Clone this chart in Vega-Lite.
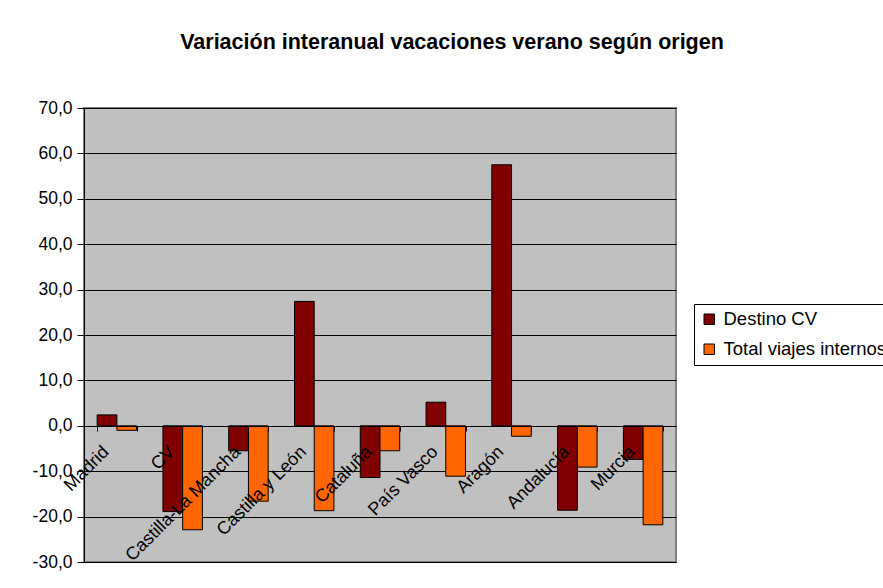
{
  "$schema": "https://vega.github.io/schema/vega-lite/v6.json",
  "width": 592,
  "height": 454,
  "autosize": {"type": "none"},
  "padding": {"left": 84, "top": 108, "right": 207, "bottom": 26},
  "background": "white",
  "title": {
    "text": "Variación interanual vacaciones verano según origen",
    "font": "Liberation Sans",
    "fontSize": 21.5,
    "fontWeight": "bold",
    "color": "black",
    "anchor": "middle",
    "dx": 72,
    "baseline": "alphabetic",
    "offset": 29
  },
  "config": {
    "locale": {
      "number": {"decimal": ",", "thousands": ".", "grouping": [3], "currency": ["", " €"], "minus": "-"}
    },
    "view": {"fill": "#C0C0C0", "stroke": "#808080", "strokeWidth": 2}
  },
  "data": {
    "values": [
      {"region": "Madrid", "serie": "Destino CV", "valor": 2.4},
      {"region": "Madrid", "serie": "Total viajes internos", "valor": -1.0},
      {"region": "CV", "serie": "Destino CV", "valor": -18.9},
      {"region": "CV", "serie": "Total viajes internos", "valor": -22.9},
      {"region": "Castilla-La Mancha", "serie": "Destino CV", "valor": -5.5},
      {"region": "Castilla-La Mancha", "serie": "Total viajes internos", "valor": -16.6},
      {"region": "Castilla y León", "serie": "Destino CV", "valor": 27.4},
      {"region": "Castilla y León", "serie": "Total viajes internos", "valor": -18.7},
      {"region": "Cataluña", "serie": "Destino CV", "valor": -11.4},
      {"region": "Cataluña", "serie": "Total viajes internos", "valor": -5.5},
      {"region": "País Vasco", "serie": "Destino CV", "valor": 5.2},
      {"region": "País Vasco", "serie": "Total viajes internos", "valor": -11.1},
      {"region": "Aragón", "serie": "Destino CV", "valor": 57.5},
      {"region": "Aragón", "serie": "Total viajes internos", "valor": -2.3},
      {"region": "Andalucía", "serie": "Destino CV", "valor": -18.6},
      {"region": "Andalucía", "serie": "Total viajes internos", "valor": -9.1},
      {"region": "Murcia", "serie": "Destino CV", "valor": -7.4},
      {"region": "Murcia", "serie": "Total viajes internos", "valor": -21.8}
    ]
  },
  "mark": {"type": "bar", "stroke": "black", "strokeWidth": 1},
  "encoding": {
    "x": {
      "field": "region",
      "type": "nominal",
      "sort": null,
      "scale": {"paddingInner": 0.4, "paddingOuter": 0.2},
      "axis": {
        "title": null,
        "offset": -136,
        "zindex": 1,
        "domainColor": "black",
        "domainWidth": 1,
        "tickColor": "black",
        "tickSize": 5,
        "tickBand": "extent",
        "labelAngle": -45,
        "labelAlign": "right",
        "labelBaseline": "middle",
        "labelPadding": 18,
        "labelOffset": -11,
        "labelFont": "Liberation Sans",
        "labelFontSize": 18,
        "labelColor": "black",
        "labelOverlap": false,
        "labelLimit": 300
      }
    },
    "xOffset": {"field": "serie", "type": "nominal", "sort": ["Destino CV", "Total viajes internos"], "scale": {"paddingInner": 0}},
    "y": {
      "field": "valor",
      "type": "quantitative",
      "scale": {"domain": [-30, 70], "nice": false},
      "axis": {
        "title": null,
        "values": [-30, -20, -10, 0, 10, 20, 30, 40, 50, 60, 70],
        "format": ".1f",
        "grid": true,
        "gridColor": "black",
        "gridWidth": 1,
        "domainColor": "black",
        "tickColor": "black",
        "tickSize": 7,
        "labelPadding": 5,
        "labelFont": "Liberation Sans",
        "labelFontSize": 17.5,
        "labelColor": "black"
      }
    },
    "color": {
      "field": "serie",
      "type": "nominal",
      "sort": ["Destino CV", "Total viajes internos"],
      "scale": {"domain": ["Destino CV", "Total viajes internos"], "range": ["#800000", "#FF6600"]},
      "legend": {
        "title": null,
        "orient": "none",
        "legendX": 610,
        "legendY": 196,
        "strokeColor": "black",
        "fillColor": "white",
        "padding": 6,
        "symbolType": "square",
        "symbolSize": 110,
        "symbolStrokeColor": "black",
        "symbolStrokeWidth": 1,
        "symbolOpacity": 1,
        "labelFont": "Liberation Sans",
        "labelFontSize": 18.5,
        "labelColor": "black",
        "labelLimit": 400,
        "rowPadding": 11,
        "labelOffset": 5
      }
    }
  }
}
